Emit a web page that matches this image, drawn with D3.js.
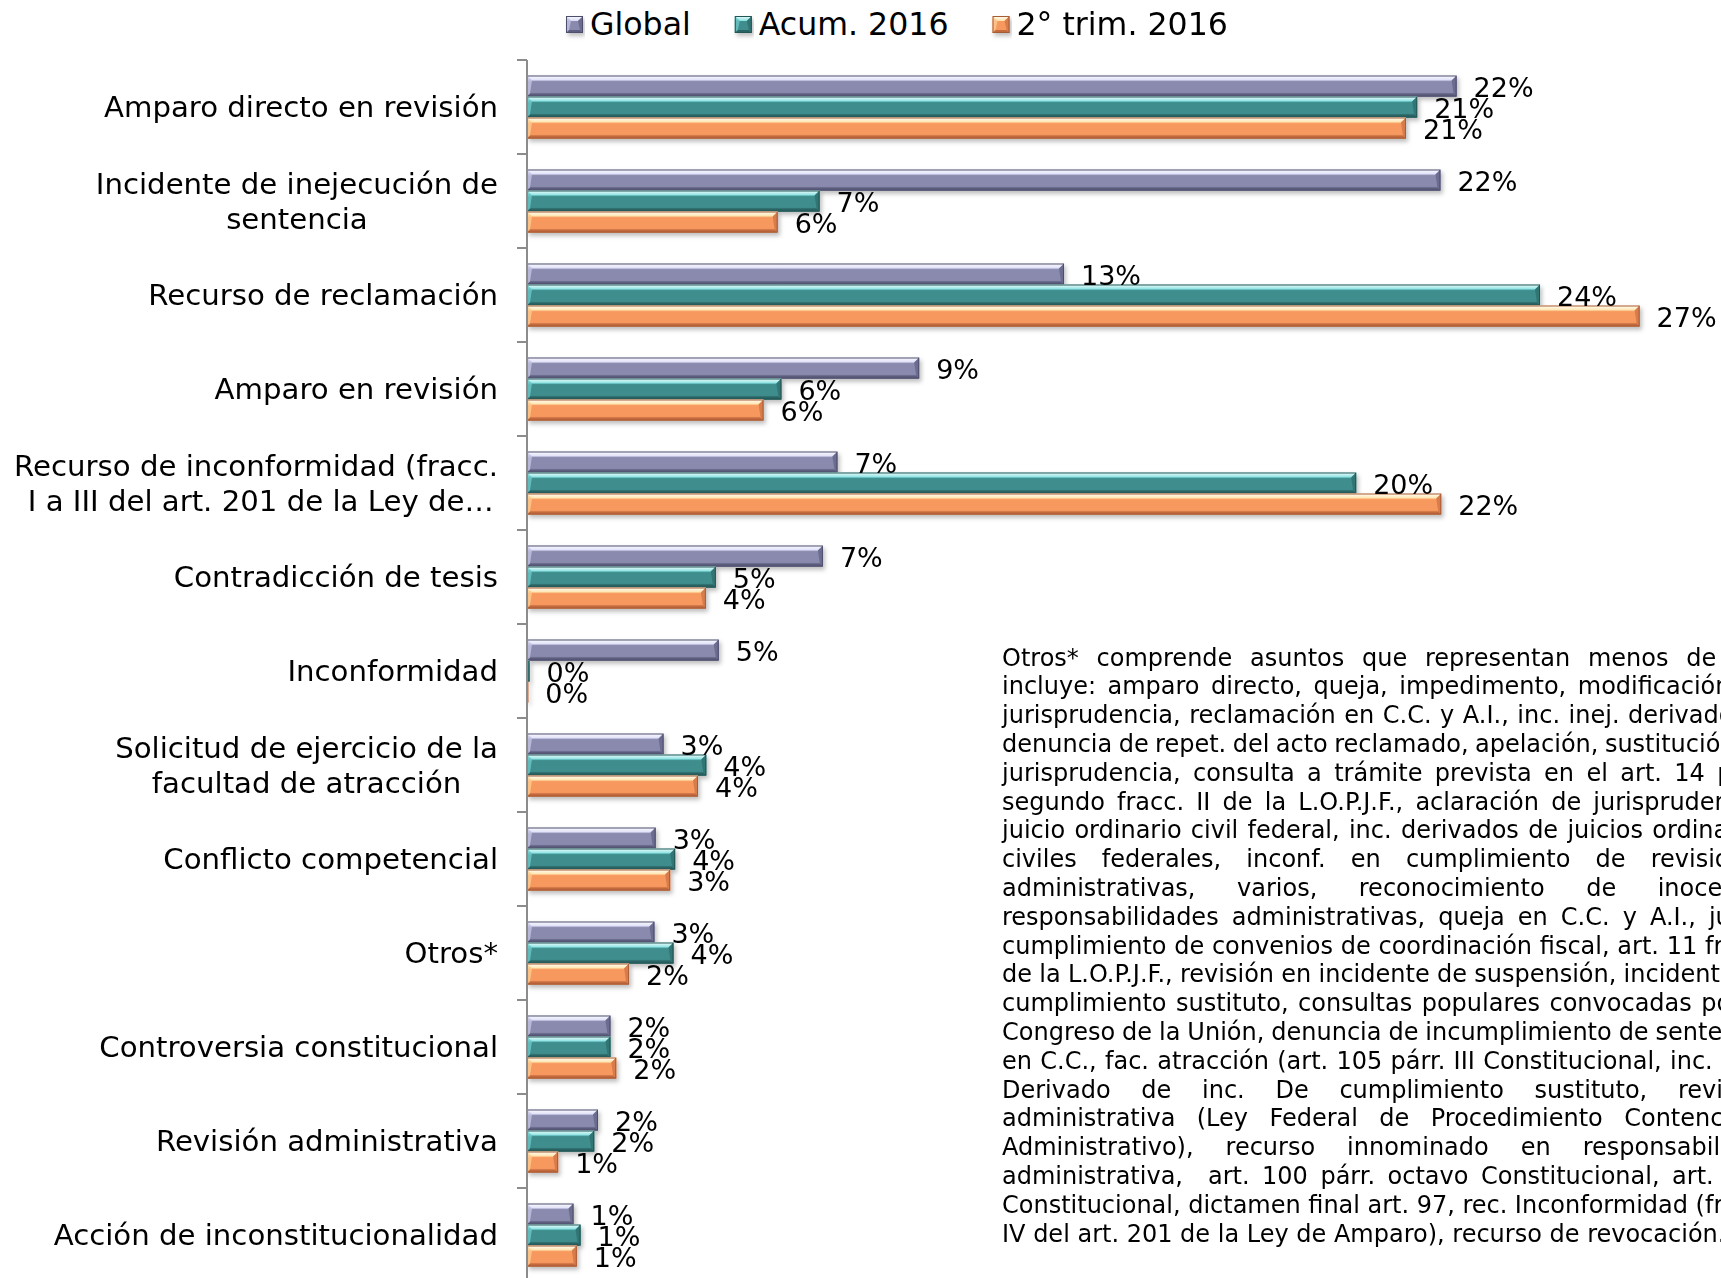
<!DOCTYPE html>
<html><head><meta charset="utf-8">
<script src="https://cdn.jsdelivr.net/npm/d3@7"></script>
<style>
html,body{margin:0;padding:0;background:#fff;overflow:hidden;}
svg{display:block;font-family:"DejaVu Sans",Verdana,sans-serif;}
</style></head><body>
<svg id="chart" width="1721" height="1278"></svg>
<script>
// ---------- DATA ----------
const categories = [
  "Amparo directo en revisión",
  "Incidente de inejecución de\nsentencia",
  "Recurso de reclamación",
  "Amparo en revisión",
  "Recurso de inconformidad (fracc.\n I a III del art. 201 de la Ley de…",
  "Contradicción de tesis",
  "Inconformidad",
  "Solicitud de ejercicio de la\nfacultad de atracción",
  "Conflicto competencial",
  "Otros*",
  "Controversia constitucional",
  "Revisión administrativa",
  "Acción de inconstitucionalidad"
];
const seriesNames = ["Global", "Acum. 2016", "2° trim. 2016"];
const globalValues = [22.40, 22.01, 12.94, 9.45, 7.48, 7.13, 4.62, 3.29, 3.10, 3.07, 2.01, 1.71, 1.12];
const acumValues   = [21.45, 7.05, 24.41, 6.13, 19.98, 4.55, 0.06, 4.32, 3.57, 3.53, 2.01, 1.62, 1.29];
const trimValues   = [21.18, 6.04, 26.81, 5.70, 22.03, 4.31, 0.03, 4.12, 3.45, 2.46, 2.15, 0.75, 1.20];
const noteLines = [
  "Otros* comprende asuntos que representan menos de 1%",
  "incluye: amparo directo, queja, impedimento, modificación de",
  "jurisprudencia, reclamación en C.C. y A.I., inc. inej. derivado de",
  "denuncia de repet. del acto reclamado, apelación, sustitución de",
  "jurisprudencia, consulta a trámite prevista en el art. 14 párr.",
  "segundo fracc. II de la L.O.P.J.F., aclaración de jurisprudencia,",
  "juicio ordinario civil federal, inc. derivados de juicios ordinarios",
  "civiles federales, inconf. en cumplimiento de revisiones",
  "administrativas, varios, reconocimiento de inocencia",
  "responsabilidades administrativas, queja en C.C. y A.I., juicio",
  "cumplimiento de convenios de coordinación fiscal, art. 11 fracc.",
  "de la L.O.P.J.F., revisión en incidente de suspensión, incidente de",
  "cumplimiento sustituto, consultas populares convocadas por el",
  "Congreso de la Unión, denuncia de incumplimiento de sentencia",
  "en C.C., fac. atracción (art. 105 párr. III Constitucional, inc. inej.",
  "Derivado de inc. De cumplimiento sustituto, revisión",
  "administrativa (Ley Federal de Procedimiento Contencioso",
  "Administrativo), recurso innominado en responsabilidad",
  "administrativa,  art. 100 párr. octavo Constitucional, art. 105",
  "Constitucional, dictamen final art. 97, rec. Inconformidad (fracc.",
  "IV del art. 201 de la Ley de Amparo), recurso de revocación."
];

// ---------- STYLE ----------
const seriesColors = [
  {light:"#e4e4ff", mid:"#8a8aae", dark:"#5c5c7c", side:"#6c6c90", stroke:"#4e4e6c"},
  {light:"#8ae8e8", mid:"#3f8d8d", dark:"#2a6363", side:"#337474", stroke:"#245656"},
  {light:"#ffeab0", mid:"#f7995f", dark:"#c2693e", side:"#d87c4c", stroke:"#a85c36"}
];
const valuesBySeries = [globalValues, acumValues, trimValues];

const svg = d3.select("#chart");
const defs = svg.append("defs");
const flt = defs.append("filter").attr("id","shadow")
  .attr("x","-10%").attr("y","-40%").attr("width","120%").attr("height","200%");
flt.append("feDropShadow").attr("dx",2).attr("dy",3).attr("stdDeviation",2)
  .attr("flood-color","#000").attr("flood-opacity",0.25);

seriesColors.forEach((c,i)=>{
  const g = defs.append("linearGradient").attr("id","body"+i)
    .attr("x1",0).attr("y1",0).attr("x2",0).attr("y2",1);
  [[0,c.light],[0.3,c.mid],[0.8,c.mid],[1,c.dark]].forEach(([o,col])=>
    g.append("stop").attr("offset",o).attr("stop-color",col));
  const t = defs.append("linearGradient").attr("id","top"+i)
    .attr("x1",0).attr("y1",0).attr("x2",0).attr("y2",1);
  [[0,"#ffffff"],[1,c.light]].forEach(([o,col])=>
    t.append("stop").attr("offset",o).attr("stop-color",col));
});

// ---------- SCALES ----------
const x = d3.scaleLinear().domain([0, 30]).range([527, 527 + 30 * 41.5]);
const y = d3.scaleBand().domain(categories).range([60, 60 + 94 * categories.length]).padding(0);
const ys = d3.scaleBand().domain(seriesNames).range([15.5, 78.5]).padding(0);

function bevelBar(g, x0, x1, yy, h, si){
  const c = seriesColors[si];
  const w = Math.max(x1 - x0, 0.5);
  x1 = x0 + w;
  const b = Math.min(5, w/2), bb = Math.min(3, w/2);
  g.append("rect").attr("x",x0).attr("y",yy).attr("width",w).attr("height",h)
    .attr("fill",`url(#body${si})`);
  g.append("polygon").attr("points",[[x0,yy],[x1,yy],[x1-b,yy+b],[x0+b,yy+b]].join(" "))
    .attr("fill",`url(#top${si})`).attr("opacity",0.9);
  g.append("polygon").attr("points",[[x0,yy+h],[x1,yy+h],[x1-bb,yy+h-bb],[x0+bb,yy+h-bb]].join(" "))
    .attr("fill",c.dark);
  g.append("polygon").attr("points",[[x1,yy],[x1,yy+h],[x1-bb,yy+h-bb],[x1-b,yy+b]].join(" "))
    .attr("fill",c.side);
  g.append("polygon").attr("points",[[x0,yy],[x0+b,yy+b],[x0+bb,yy+h-bb],[x0,yy+h]].join(" "))
    .attr("fill",c.light).attr("opacity",0.5);
  g.append("rect").attr("x",x0+0.5).attr("y",yy+0.5).attr("width",Math.max(w-1,0.1)).attr("height",h-1)
    .attr("fill","none").attr("stroke",c.stroke).attr("stroke-width",1);
}

// ---------- BARS ----------
const barsG = svg.append("g").attr("filter","url(#shadow)");
categories.forEach((cat,ci)=>{
  seriesNames.forEach((s,si)=>{
    const v = valuesBySeries[si][ci];
    const g = barsG.append("g");
    bevelBar(g, x(0), x(v), y(cat)+ys(s), ys.bandwidth(), si);
  });
});

// ---------- DATA LABELS ----------
const lblG = svg.append("g").attr("font-size",27).attr("fill","#000");
categories.forEach((cat,ci)=>{
  seriesNames.forEach((s,si)=>{
    const v = valuesBySeries[si][ci];
    lblG.append("text").attr("x", x(v) + 17)
      .attr("y", y(cat) + ys(s) + ys.bandwidth()/2 + 1)
      .attr("dominant-baseline","central")
      .text(Math.round(v) + "%");
  });
});

// ---------- AXIS ----------
const axisG = svg.append("g").attr("stroke","#8c8c8c").attr("stroke-width",2);
axisG.append("line").attr("x1",x(0)).attr("x2",x(0)).attr("y1",y.range()[0]).attr("y2",y.range()[1]);
const bounds = categories.map(c=>y(c)).concat([y.range()[1]]);
axisG.selectAll("line.tick").data(bounds).join("line").attr("class","tick")
  .attr("x1",x(0)-10).attr("x2",x(0)).attr("y1",d=>d).attr("y2",d=>d);

// ---------- CATEGORY LABELS ----------
const catG = svg.append("g").attr("font-size",29.2).attr("fill","#000");
const labelRight = 498, lineH = 35;
categories.forEach(cat=>{
  const lines = cat.split("\n");
  const mid = y(cat) + y.bandwidth()/2;
  const texts = lines.map((ln,i)=> catG.append("text")
    .style("white-space","pre")
    .attr("y", mid + (i - (lines.length-1)/2) * lineH)
    .attr("dominant-baseline","central").text(ln));
  if (lines.length === 1){
    texts[0].attr("x", labelRight).attr("text-anchor","end");
  } else {
    const maxW = d3.max(texts, t=>t.node().getComputedTextLength());
    texts.forEach(t=>t.attr("x", labelRight - maxW/2).attr("text-anchor","middle"));
  }
});

// ---------- LEGEND ----------
const legG = svg.append("g").attr("font-size",31.6).attr("fill","#000");
let lx = 566;
seriesNames.forEach((s,si)=>{
  const mg = legG.append("g").attr("filter","url(#shadow)");
  bevelBar(mg, lx, lx+17, 16, 17, si);
  const t = legG.append("text").attr("x", lx+24).attr("y", 24)
    .attr("dominant-baseline","central").text(s);
  lx += 24 + t.node().getComputedTextLength() + 44;
});

// ---------- NOTE ----------
const noteG = svg.append("g").attr("font-size",24).attr("fill","#000");
const noteLeft = 1002, noteWidth = 770, noteTop = 657.5, noteStep = 28.8;
const meas = noteG.append("text").style("white-space","pre");
const measure = s => { meas.text(s); return meas.node().getComputedTextLength(); };
const spaceW = measure("a a") - measure("aa");
noteLines.forEach((ln,i)=>{
  const words = ln.split(" ");
  const widths = words.map(w=> w ? measure(w) : 0);
  const total = d3.sum(widths);
  const last = i === noteLines.length - 1;
  let gap = (last || words.length < 2) ? spaceW : (noteWidth - total) / (words.length - 1);
  gap = Math.max(gap, spaceW * 0.8);
  let cx = noteLeft;
  words.forEach((w,wi)=>{
    if (w) noteG.append("text").attr("x",cx).attr("y",noteTop + i*noteStep)
      .attr("dominant-baseline","central").text(w);
    cx += widths[wi] + gap;
  });
});
meas.remove();
</script>
</body></html>
